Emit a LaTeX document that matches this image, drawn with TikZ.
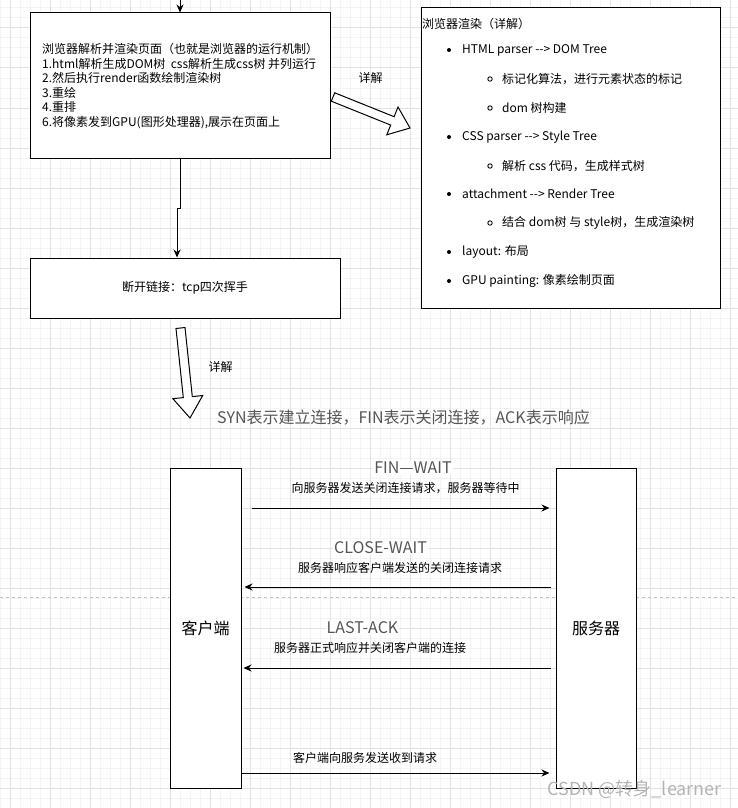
\documentclass[tikz,border=0pt]{standalone}
\usepackage{fontspec}
\setmainfont{Noto Sans CJK SC}[Ligatures=TeXOff]
\usetikzlibrary{arrows.meta}

\definecolor{majorgrid}{HTML}{E2E2E2}
\definecolor{minorgrid}{HTML}{F4F4F4}
\definecolor{labelgray}{HTML}{555555}
\definecolor{markgray}{HTML}{B4B4B4}
\definecolor{pagebreak}{HTML}{C0C0C0}

\tikzset{
  box/.style={draw=black, fill=white, line width=1pt, inner sep=0pt},
  txt/.style={inner sep=0pt, font=\fontsize{12}{14.6}\selectfont},
  state/.style={inner sep=1pt, fill=white, text=labelgray, font=\fontsize{16}{18}\selectfont},
  flow/.style={line width=1pt, -{Stealth[length=8pt,width=7pt]}},
  hollow/.style={draw=black, fill=white, line width=1pt, line join=miter},
}

\begin{document}
\begin{tikzpicture}[x=1pt, y=-1pt]
                \useasboundingbox (0,0) rectangle (738,808);

                % background grid
                \foreach \x in {0,10,...,730} \draw[minorgrid, line width=1pt] (\x,0) -- (\x,808);
                \foreach \y in {8,18,...,808} \draw[minorgrid, line width=1pt] (0,\y) -- (738,\y);
                \foreach \x in {10,50,...,730} \draw[majorgrid, line width=1pt] (\x,0) -- (\x,808);
                \foreach \y in {28,68,...,788} \draw[majorgrid, line width=1pt] (0,\y) -- (738,\y);
                \draw[pagebreak, dashed, line width=1pt] (0,597) -- (738,597);

                % browser render flow
                \node[box, minimum width=300pt, minimum height=145pt] (render) at (180,85.5) {};
                \node[txt, anchor=west, align=left] (renderText) at (42,86) {浏览器解析并渲染页面（也就是浏览器的运行机制）\\1.html解析生成DOM树\ \ css解析生成css树 并列运行\\2.然后执行render函数绘制渲染树\\3.重绘\\4.重排\\6.将像素发到GPU(图形处理器),展示在页面上};

                \node[box, minimum width=310pt, minimum height=60pt, font=\fontsize{12}{14}\selectfont] (wave) at (185,288) {断开链接：tcp四次挥手};

                \coordinate (entry) at (180,0);
                \coordinate (jog) at (177,208);
                \draw[flow] (entry) -- (render.north);
                \draw[flow] (render.south) |- (jog) -- (jog |- wave.north);

                % detail box
                \node[box, minimum width=299pt, minimum height=300pt] (detail) at (570.5,158) {};
                \node[txt, anchor=west] (dTitle) at (422,24) {浏览器渲染（详解）};
                \node[txt, anchor=west] (dHtml) at (462,50) {HTML parser --> DOM Tree};
                \node[txt, anchor=west] (dToken) at (502,79) {标记化算法，进行元素状态的标记};
                \node[txt, anchor=west] (dDom) at (502,108) {dom 树构建};
                \node[txt, anchor=west] (dCss) at (462,137) {CSS parser --> Style Tree};
                \node[txt, anchor=west] (dParse) at (502,166) {解析 css 代码，生成样式树};
                \node[txt, anchor=west] (dAttach) at (462,194) {attachment --> Render Tree};
                \node[txt, anchor=west] (dJoin) at (502,223) {结合 dom树 与 style树，生成渲染树};
                \node[txt, anchor=west] (dLayout) at (462,252) {layout: 布局};
                \node[txt, anchor=west] (dGpu) at (462,281) {GPU painting: 像素绘制页面};
                \foreach \y in {50,137,194,252,281} \fill (449,\y) circle (2pt);
                \foreach \y in {79,108,166,223} \draw[line width=0.9pt] (490,\y) circle (2.2pt);

                % hollow arrows
                \draw[hollow] (334.7,92.8) -- (394.1,116.7) -- (398.0,107.0) -- (410,128) -- (386.8,134.8) -- (390.7,125.1) -- (331.3,101.2) -- cycle;
                \node[txt] (detailNote) at (370.5,78) {详解};
                \draw[hollow] (185.0,327.5) -- (192.3,396.6) -- (202.7,395.5) -- (190,418) -- (172.9,398.7) -- (183.3,397.6) -- (176.0,328.5) -- cycle;
                \node[txt] (waveNote) at (220.5,367) {详解};

                \node[inner sep=0pt, text=labelgray, font=\fontsize{16}{18}\selectfont, anchor=west] (legend) at (217,418) {SYN表示建立连接，FIN表示关闭连接，ACK表示响应};

                % four way handshake
                \node[box, minimum width=71pt, minimum height=320pt, font=\fontsize{16}{18}\selectfont] (client) at (205.5,628) {客户端};
                \node[box, minimum width=80pt, minimum height=320pt, font=\fontsize{16}{18}\selectfont] (server) at (596,628) {服务器};

                \node[state] (finWait) at (413,468) {FIN—WAIT};
                \node[txt] (finText) at (405.5,488) {向服务器发送关闭连接请求，服务器等待中};
                \draw[flow, shorten <=10pt, shorten >=6pt] (client.east |- 0,508) -- (server.west |- 0,508);

                \node[state] (closeWait) at (380.5,548) {CLOSE-WAIT};
                \node[txt] (closeText) at (400,568) {服务器响应客户端发送的关闭连接请求};
                \draw[flow, shorten <=5pt, shorten >=3pt] (server.west |- 0,587) -- (client.east |- 0,587);

                \node[state] (lastAck) at (362.5,628) {LAST-ACK};
                \node[txt] (lastText) at (370,648) {服务器正式响应并关闭客户端的连接};
                \draw[flow, shorten <=5pt, shorten >=2pt] (server.west |- 0,668) -- (client.east |- 0,668);

                \node[txt] (ackText) at (365,758) {客户端向服务发送收到请求};
                \draw[flow, shorten >=6pt] (client.east |- 0,773) -- (server.west |- 0,773);

                \node[inner sep=0pt, text=markgray, font=\fontsize{18}{20}\selectfont, anchor=east] (mark) at (722,789) {CSDN @转身\_learner};
\end{tikzpicture}
\end{document}
